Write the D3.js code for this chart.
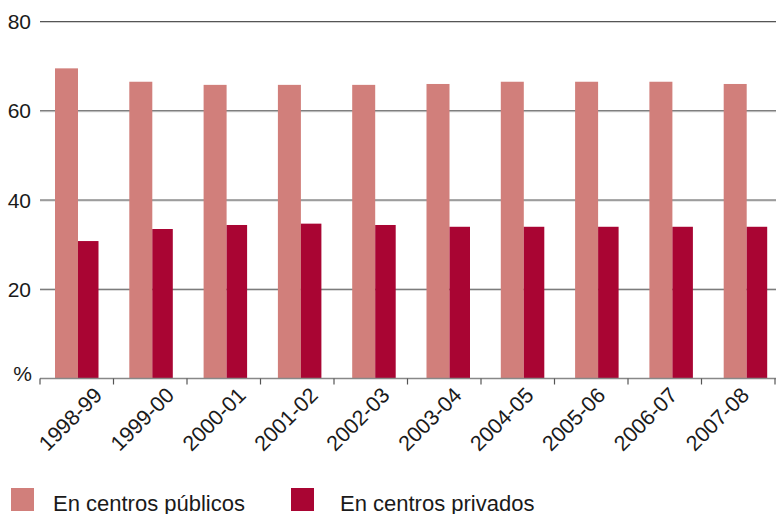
<!DOCTYPE html>
<html><head><meta charset="utf-8">
<script src="https://cdn.jsdelivr.net/npm/d3@7"></script>
<style>body{margin:0;background:#fff}svg{display:block}text{font-family:"Liberation Sans",Arial,sans-serif;fill:#1a1a1a}</style>
</head><body>
<script>
const categories = ["1998-99","1999-00","2000-01","2001-02","2002-03","2003-04","2004-05","2005-06","2006-07","2007-08"];
const publicos = [69.5,66.5,65.8,65.8,65.8,66.0,66.5,66.5,66.5,66.0];
const privados = [30.8,33.5,34.4,34.7,34.4,34.0,34.0,34.0,34.0,34.0];
const yTicks = [20,40,60,80];
const seriesNames = ["En centros públicos","En centros privados"];
const colors = ["#d17f7b","#a90533"];

const W=776,H=514;
const svg=d3.select("body").append("svg").attr("width",W).attr("height",H);
const y=d3.scaleLinear().domain([0,80]).range([378.5,21.5]);
const x=d3.scaleBand().domain(categories).range([39.3,782.3]).padding(0);
const tickX=d3.scaleBand().domain(categories).range([40,775]).padding(0);
const labelX=d3.scalePoint().domain(categories).range([103.5,750.5]);
const left=40,right=776;

// gridlines
yTicks.forEach(t=>{
  svg.append("line").attr("x1",left).attr("x2",right).attr("y1",y(t)+1).attr("y2",y(t)+1).attr("stroke","#cfcfcf").attr("stroke-width",1);
  svg.append("line").attr("x1",left).attr("x2",right).attr("y1",y(t)).attr("y2",y(t)).attr("stroke","#555").attr("stroke-width",1.2);
  svg.append("text").attr("x",31).attr("y",y(t)).attr("dy","0.36em").attr("text-anchor","end").attr("font-size",21).text(t);
});
svg.append("text").attr("x",32).attr("y",y(0)).attr("dy","0.1em").attr("text-anchor","end").attr("font-size",21).text("%");

const pubW=23, priW=20.5, off=15.7;
svg.append("g").selectAll("rect").data(categories).join("rect")
  .attr("x",(c)=>x(c)+off).attr("width",pubW)
  .attr("y",(c,i)=>y(publicos[i])).attr("height",(c,i)=>y(0)-y(publicos[i]))
  .attr("fill",colors[0]);
svg.append("g").selectAll("rect").data(categories).join("rect")
  .attr("x",(c)=>x(c)+off+pubW).attr("width",priW)
  .attr("y",(c,i)=>y(privados[i])).attr("height",(c,i)=>y(0)-y(privados[i]))
  .attr("fill",colors[1]);

// axis line
svg.append("line").attr("x1",left).attr("x2",right).attr("y1",y(0)).attr("y2",y(0)).attr("stroke","#888").attr("stroke-width",1.5);
const bounds=categories.map(c=>tickX(c)).concat([tickX.range()[1]]);
svg.append("g").selectAll("line").data(bounds).join("line")
  .attr("x1",d=>d).attr("x2",d=>d).attr("y1",y(0)).attr("y2",y(0)+6).attr("stroke","#555").attr("stroke-width",1.2);

// x labels
svg.append("g").selectAll("text").data(categories).join("text")
  .attr("transform",c=>`translate(${labelX(c)},${y(0)+18}) rotate(-45)`)
  .attr("text-anchor","end").attr("font-size",21.5).text(c=>c);

// legend
const legX=[11,291], textX=[53,340];
seriesNames.forEach((n,i)=>{
  svg.append("rect").attr("x",legX[i]).attr("y",488).attr("width",23).attr("height",23).attr("fill",colors[i]);
  svg.append("text").attr("x",textX[i]).attr("y",511).attr("font-size",22).text(n);
});
</script>
</body></html>
